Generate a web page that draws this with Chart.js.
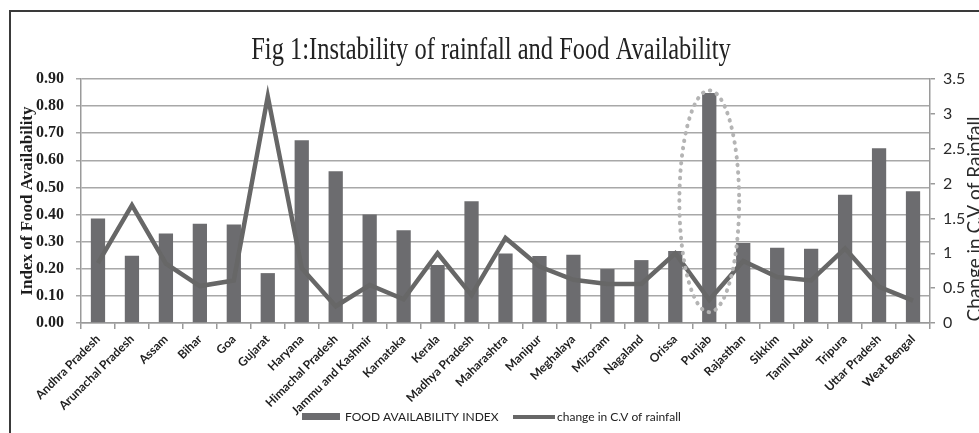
<!DOCTYPE html>
<html>
<head>
<meta charset="utf-8">
<script src="https://cdn.jsdelivr.net/npm/chart.js@4.4.1/dist/chart.umd.min.js"></script>
<style>
  html, body { margin: 0; padding: 0; background: #fff; overflow: hidden; }
  #wrap { width: 979px; height: 433px; }
</style>
</head>
<body>
<div id="wrap"><canvas id="c" width="979" height="433"></canvas></div>
<script>
// States on the category axis
const states = ['Andhra Pradesh', 'Arunachal Pradesh', 'Assam', 'Bihar', 'Goa', 'Gujarat', 'Haryana',
  'Himachal Pradesh', 'Jammu and Kashmir', 'Karnataka', 'Kerala', 'Madhya Pradesh', 'Maharashtra',
  'Manipur', 'Meghalaya', 'Mizoram', 'Nagaland', 'Orissa', 'Punjab', 'Rajasthan', 'Sikkim',
  'Tamil Nadu', 'Tripura', 'Uttar Pradesh', 'Weat Bengal'];

// Food availability index (left axis, bars)
const foodIndex = [0.385, 0.248, 0.330, 0.366, 0.363, 0.184, 0.674, 0.560, 0.400, 0.342, 0.214, 0.449,
  0.256, 0.247, 0.252, 0.199, 0.232, 0.266, 0.848, 0.295, 0.278, 0.274, 0.473, 0.645, 0.486];

// Change in coefficient of variation of rainfall (right axis, line)
const cvChange = [0.86, 1.69, 0.85, 0.53, 0.61, 3.25, 0.785, 0.24, 0.545, 0.34, 1.00, 0.40,
  1.22, 0.81, 0.62, 0.56, 0.56, 1.00, 0.33, 0.89, 0.66, 0.61, 1.07, 0.52, 0.32];

const titleText = 'Fig 1:Instability of rainfall and Food Availability';
const leftAxisTitle = 'Index of Food Availability';
const rightAxisTitle = 'Change in C.V of Rainfall';
const barLabel = 'FOOD AVAILABILITY INDEX';
const lineLabel = 'change in C.V of rainfall';
const highlightState = 'Punjab';

const BAR_COLOR = '#6c6c6f';
const LINE_COLOR = '#676767';
const GRID_COLOR = '#a8a8a8';

// Outer frame of the figure
const framePlugin = {
  id: 'frame',
  beforeDraw(chart) {
    const ctx = chart.ctx;
    ctx.save();
    ctx.strokeStyle = '#3a3a3a';
    ctx.lineWidth = 2;
    ctx.beginPath();
    ctx.moveTo(10, chart.height + 2);
    ctx.lineTo(10, 11);
    ctx.lineTo(chart.width + 2, 11);
    ctx.stroke();
    ctx.restore();
  }
};

// Condensed serif title, dotted ellipse around the highlighted state,
// right axis title and legend
const extrasPlugin = {
  id: 'extras',
  afterDraw(chart) {
    const ctx = chart.ctx;
    const x = chart.scales.x, y = chart.scales.y;
    const area = chart.chartArea;

    // title (tall, narrow serif)
    ctx.save();
    ctx.translate(491, 59);
    ctx.scale(0.765, 1);
    ctx.fillStyle = '#222';
    ctx.font = '32px "Liberation Serif"';
    ctx.textAlign = 'center';
    ctx.textBaseline = 'alphabetic';
    ctx.fillText(titleText, 0, 0);
    ctx.restore();

    // dotted ellipse
    const i = states.indexOf(highlightState);
    const cx = x.getPixelForValue(i);
    const catW = (area.right - area.left) / states.length;
    const top = y.getPixelForValue(foodIndex[i] + 0.01);
    const bottom = y.getPixelForValue(0.04);
    ctx.save();
    ctx.strokeStyle = '#b4b4b4';
    ctx.lineWidth = 4;
    ctx.lineCap = 'round';
    ctx.setLineDash([0.5, 7]);
    ctx.beginPath();
    ctx.ellipse(cx, (top + bottom) / 2, catW * 0.88, (bottom - top) / 2, 0, 0, Math.PI * 2);
    ctx.stroke();
    ctx.restore();

    // right axis title, reading bottom to top
    ctx.save();
    ctx.translate(975, (area.top + area.bottom) / 2 + 18);
    ctx.rotate(-Math.PI / 2);
    ctx.fillStyle = '#2a2a2a';
    ctx.font = '19px Lato';
    ctx.textAlign = 'center';
    ctx.textBaseline = 'middle';
    ctx.fillText(rightAxisTitle, 0, 0);
    ctx.restore();

    // legend
    ctx.save();
    const ly = 417;
    ctx.fillStyle = BAR_COLOR;
    ctx.fillRect(302, ly - 4, 38, 7);
    ctx.fillStyle = '#222';
    ctx.font = '12px Lato';
    ctx.textBaseline = 'middle';
    ctx.textAlign = 'left';
    ctx.fillText(barLabel, 345, ly);
    ctx.strokeStyle = LINE_COLOR;
    ctx.lineWidth = 4;
    ctx.beginPath();
    ctx.moveTo(513, ly);
    ctx.lineTo(555, ly);
    ctx.stroke();
    ctx.fillText(lineLabel, 557, ly);
    ctx.restore();
  }
};

new Chart(document.getElementById('c'), {
  data: {
    labels: states,
    datasets: [
      {
        type: 'line',
        label: lineLabel,
        data: cvChange,
        yAxisID: 'y1',
        borderColor: LINE_COLOR,
        borderWidth: 4.5,
        pointRadius: 0,
        tension: 0,
        order: 0
      },
      {
        type: 'bar',
        label: barLabel,
        data: foodIndex,
        yAxisID: 'y',
        backgroundColor: BAR_COLOR,
        barPercentage: 0.42,
        categoryPercentage: 1.0,
        order: 1
      }
    ]
  },
  options: {
    responsive: false,
    animation: false,
    layout: { padding: { left: 0, right: 0, top: 79, bottom: 0 } },
    plugins: {
      legend: { display: false },
      tooltip: { enabled: false },
      title: { display: false }
    },
    scales: {
      x: {
        offset: true,
        grid: { offset: true, drawOnChartArea: false, drawTicks: true, tickLength: 6, color: '#9a9a9a', lineWidth: 1.5 },
        border: { color: '#9a9a9a', width: 1.5 },
        ticks: {
          autoSkip: false, minRotation: 45, maxRotation: 45, padding: 3,
          color: '#1e1e1e', font: { family: 'Lato', size: 12, weight: 'bold' }
        },
        afterFit(s) { s.height = 110; }
      },
      y: {
        position: 'left',
        min: 0, max: 0.9,
        grid: { color: GRID_COLOR, lineWidth: 1.5, tickLength: 5 },
        border: { color: '#9a9a9a', width: 1.5 },
        ticks: {
          stepSize: 0.1, padding: 12, color: '#1e1e1e',
          font: { family: 'Liberation Serif', size: 16, weight: 'bold' },
          callback: v => Number(v).toFixed(2)
        },
        title: {
          display: true, text: leftAxisTitle, color: '#1e1e1e',
          font: { family: 'Liberation Serif', size: 17, weight: 'bold' },
          padding: { top: 17, bottom: 0 }
        },
        afterFit(s) { s.width = 81; }
      },
      y1: {
        position: 'right',
        min: 0, max: 3.5,
        grid: { drawOnChartArea: false, color: '#9a9a9a', lineWidth: 1.5, tickLength: 5 },
        border: { color: '#9a9a9a', width: 1.5 },
        ticks: {
          stepSize: 0.5, padding: 8, color: '#2a2a2a',
          font: { family: 'Lato', size: 16 },
          callback: v => String(Math.round(v * 10) / 10)
        },
        afterFit(s) { s.width = 49; }
      }
    }
  },
  plugins: [framePlugin, extrasPlugin]
});
</script>
</body>
</html>
